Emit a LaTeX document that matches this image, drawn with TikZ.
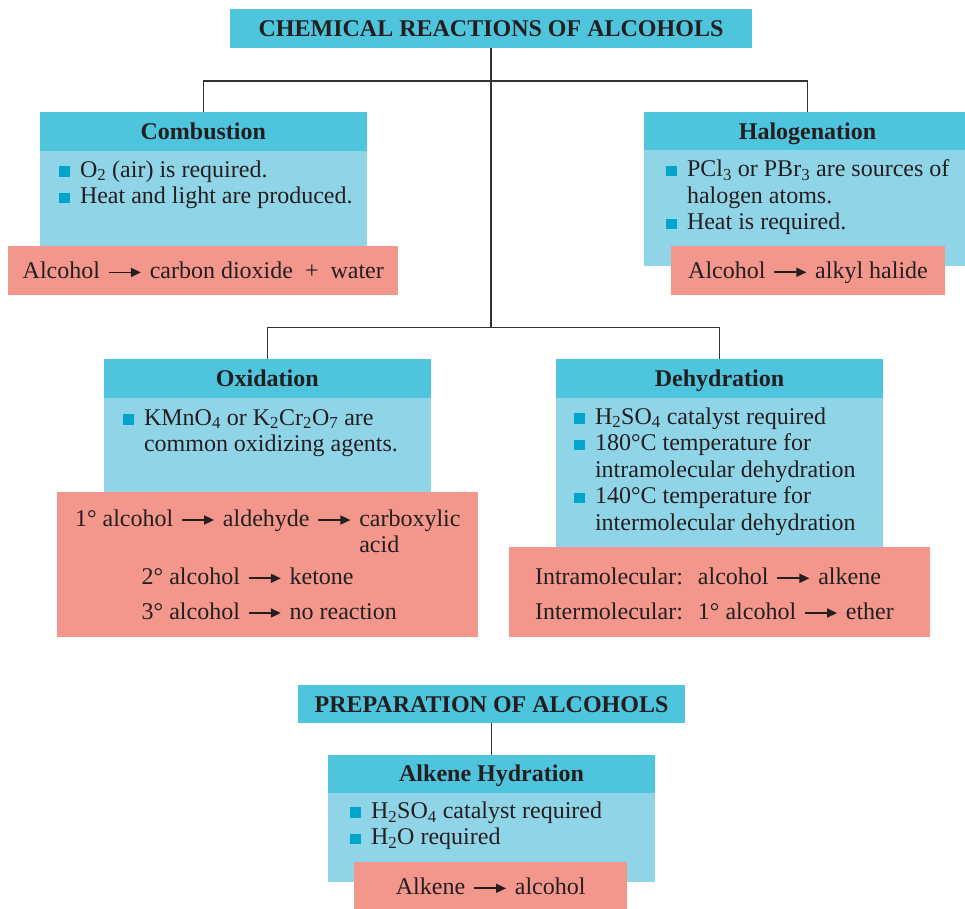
\documentclass[tikz,border=0pt]{standalone}
\usepackage{fontspec}
\setmainfont{Liberation Serif}
\usepackage{xcolor}
\usetikzlibrary{positioning,arrows.meta}

\definecolor{hdrblue}{HTML}{4EC5DD}
\definecolor{bodyblue}{HTML}{90D4E8}
\definecolor{pinkbox}{HTML}{F3968C}
\definecolor{bulletblue}{HTML}{00A5CC}
\definecolor{inkgray}{HTML}{231F20}
\definecolor{linegray}{HTML}{333333}

\newcommand{\rxn}{\hspace{2pt}\tikz[baseline=-6pt]\draw[draw=inkgray, fill=inkgray, line width=1.7pt, -{Triangle[length=10pt,width=9pt]}] (0pt,0pt) -- (32pt,0pt);\hspace{2pt}}
\newcommand{\bitem}[1]{\par\noindent\hangindent=21pt\hangafter=1\makebox[21pt][l]{\textcolor{bulletblue}{\rule[0.5pt]{11pt}{10.5pt}}}#1\par}

\begin{document}
\begin{tikzpicture}[
    x=1pt, y=-1pt,
    every node/.style={font=\fontsize{24}{26.5}\selectfont, text=inkgray, outer sep=0pt},
    oneline/.style={text height=18pt, text depth=2pt},
    mainhdr/.style={fill=hdrblue, inner sep=0pt, oneline, font=\fontsize{24}{26.5}\selectfont\bfseries},
    hdr/.style={fill=hdrblue, minimum width=327pt, minimum height=38.5pt, inner sep=0pt, oneline, font=\fontsize{24}{26.5}\selectfont\bfseries},
    body/.style={fill=bodyblue, minimum width=327pt, inner sep=0pt},
    rbox/.style={fill=pinkbox, inner sep=0pt},
    blist/.style={anchor=base west, inner sep=0pt},
    rtxt/.style={anchor=base west, inner sep=0pt},
    link/.style={draw=linegray, line width=1.6pt}
]
\useasboundingbox (0,0) rectangle (965,908);
\clip (0,0) rectangle (965,908);

\node[mainhdr, minimum width=522pt, minimum height=39pt] (chem) at (491,28.8) {CHEMICAL REACTIONS OF ALCOHOLS};

% combustion
\node[hdr] (comb) at (203.3,131.5) {Combustion};
\node[body, minimum height=95pt, below=0pt of comb] (combbody) {};
\node[rbox, oneline, minimum width=389.7pt, minimum height=49.3pt, below=0pt of combbody] (combrx) {Alcohol \rxn{} carbon dioxide~~+~~water};
\node[blist] (combtxt) at (59,177) {\begin{minipage}[t]{300pt}\raggedright
  \bitem{O\textsubscript{2} (air) is required.}
  \bitem{Heat and light are produced.}
\end{minipage}};

% halogenation
\node[hdr] (halo) at (807.5,131) {Halogenation};
\node[body, minimum height=116pt, below=0pt of halo] (halobody) {};
\node[rbox, oneline, minimum width=274pt, minimum height=49.3pt] (halorx) at (808,270.3) {Alcohol \rxn{} alkyl halide};
\node[blist] (halotxt) at (666,176.7) {\begin{minipage}[t]{294pt}\raggedright
  \bitem{PCl\textsubscript{3} or PBr\textsubscript{3} are sources of halogen atoms.}
  \bitem{Heat is required.}
\end{minipage}};

% oxidation
\node[hdr] (oxi) at (267.3,378.5) {Oxidation};
\node[body, minimum height=94.6pt, below=0pt of oxi] (oxibody) {};
\node[rbox, minimum width=420.4pt, minimum height=144.4pt, below=0pt of oxibody] (oxirx) {};
\node[blist] (oxitxt) at (123,425) {\begin{minipage}[t]{290pt}\raggedright
  \bitem{KMnO\textsubscript{4} or K\textsubscript{2}Cr\textsubscript{2}O\textsubscript{7} are common oxidizing agents.}
\end{minipage}};
\node[rtxt] (oxi1) at (75,526) {1° alcohol \rxn{} aldehyde \rxn{} \begin{tabular}[t]{@{}l@{}}carboxylic\\acid\end{tabular}};
\node[rtxt] (oxi2) at (141.7,584.3) {2° alcohol \rxn{} ketone};
\node[rtxt] (oxi3) at (141.7,619) {3° alcohol \rxn{} no reaction};

% dehydration
\node[hdr] (dehy) at (719.5,378.5) {Dehydration};
\node[body, minimum height=149pt, below=0pt of dehy] (dehybody) {};
\node[rbox, minimum width=421pt, minimum height=90pt, below=0pt of dehybody] (dehyrx) {};
\node[blist] (dehytxt) at (574,424) {\begin{minipage}[t]{290pt}\raggedright
  \bitem{H\textsubscript{2}SO\textsubscript{4} catalyst required}
  \bitem{180°C temperature for intramolecular dehydration}
  \bitem{140°C temperature for intermolecular dehydration}
\end{minipage}};
\node[rtxt] (dehy1) at (535,584.3) {\begin{tabular}[t]{@{}l@{\hspace{15pt}}l@{}}
  Intramolecular: & alcohol \rxn{} alkene\\[8.2pt]
  Intermolecular: & 1° alcohol \rxn{} ether
\end{tabular}};

% preparation
\node[mainhdr, minimum width=386.7pt, minimum height=38.3pt] (prep) at (491.5,704.2) {PREPARATION OF ALCOHOLS};
\node[hdr, minimum height=37.7pt] (alk) at (491.5,773.9) {Alkene Hydration};
\node[body, minimum height=89.5pt, below=0pt of alk] (alkbody) {};
\node[rbox, oneline, minimum width=273.3pt, minimum height=49.3pt] (alkrx) at (490.7,886.3) {Alkene \rxn{} alcohol};
\node[blist] (alktxt) at (350,818.3) {\begin{minipage}[t]{290pt}\raggedright
  \bitem{H\textsubscript{2}SO\textsubscript{4} catalyst required}
  \bitem{H\textsubscript{2}O required}
\end{minipage}};

\coordinate (fork1) at (491,80.7);
\coordinate (fork2) at (491,327.3);
\draw[link] (chem.south) -- (fork2);
\draw[link] (comb.north) |- (fork1) -| (halo.north);
\draw[link] (oxi.north) |- (fork2) -| (dehy.north);
\draw[link] (prep.south) -- (alk.north);

\end{tikzpicture}
\end{document}
